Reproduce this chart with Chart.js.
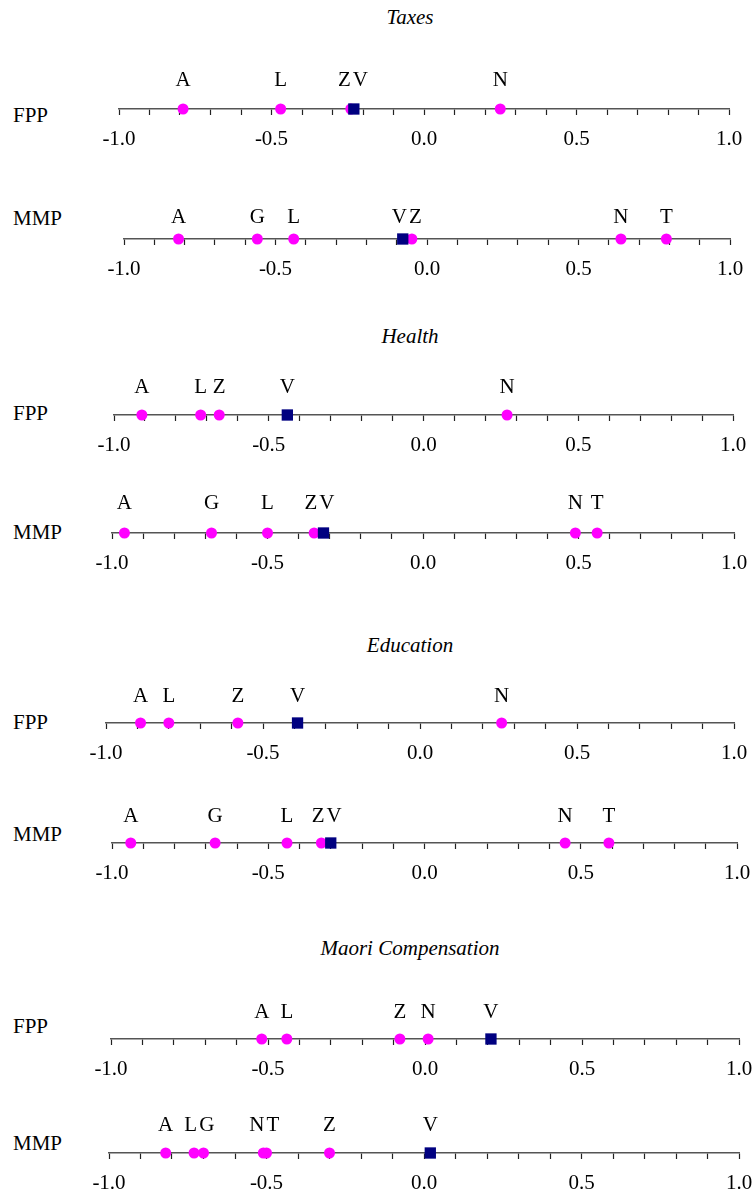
<!DOCTYPE html>
<html>
<head>
<meta charset="utf-8">
<script src="https://cdn.jsdelivr.net/npm/chart.js@4.4.0/dist/chart.umd.min.js"></script>
<style>
  body { margin: 0; background: #fff; }
  #page { position: relative; width: 754px; height: 1198px; overflow: hidden;
          font-family: 'Liberation Serif', 'Times New Roman', serif; color: #000; }
  .title { position: absolute; font-style: italic; font-size: 21px; white-space: nowrap;
           transform: translate(-50%, -50%); }
  .row { position: absolute; left: 13px; font-size: 21px; transform: translateY(-50%); }
  .box { position: absolute; }
</style>
</head>
<body>
<div id="page"></div>
<script>
/* ---- data: party positions on each issue (V = median voter) ---- */
var taxesFppLabels = ['A', 'L', 'Z', 'V', 'N'];
var taxesFppValues = [-0.79, -0.47, -0.24, -0.23, 0.25];
var taxesMmpLabels = ['A', 'G', 'L', 'V', 'Z', 'N', 'T'];
var taxesMmpValues = [-0.82, -0.56, -0.44, -0.08, -0.05, 0.64, 0.79];

var healthFppLabels = ['A', 'L', 'Z', 'V', 'N'];
var healthFppValues = [-0.91, -0.72, -0.66, -0.44, 0.27];
var healthMmpLabels = ['A', 'G', 'L', 'Z', 'V', 'N', 'T'];
var healthMmpValues = [-0.96, -0.68, -0.50, -0.35, -0.32, 0.49, 0.56];

var eduFppLabels = ['A', 'L', 'Z', 'V', 'N'];
var eduFppValues = [-0.89, -0.80, -0.58, -0.39, 0.26];
var eduMmpLabels = ['A', 'G', 'L', 'Z', 'V', 'N', 'T'];
var eduMmpValues = [-0.94, -0.67, -0.44, -0.33, -0.30, 0.45, 0.59];

var maoriFppLabels = ['A', 'L', 'Z', 'N', 'V'];
var maoriFppValues = [-0.52, -0.44, -0.08, 0.01, 0.21];
var maoriMmpLabels = ['A', 'L', 'G', 'N', 'T', 'Z', 'V'];
var maoriMmpValues = [-0.82, -0.73, -0.70, -0.51, -0.50, -0.30, 0.02];

var axisMin = -1;
var axisMax = 1;
var axisStep = 0.1;

/* ---- layout (pixel placement of each strip) ---- */
var titles = [
  { text: 'Taxes', x: 410, y: 17 },
  { text: 'Health', x: 410, y: 336 },
  { text: 'Education', x: 410, y: 645 },
  { text: 'Maori Compensation', x: 410, y: 948 }
];

var panels = [
  { row: 'FPP', labels: taxesFppLabels,  values: taxesFppValues,  left: 119,   right: 729,   axisY: 109,  rowY: 115,  lift: 29 },
  { row: 'MMP', labels: taxesMmpLabels,  values: taxesMmpValues,  left: 123.6, right: 729.3, axisY: 239,  rowY: 218,  lift: 22 },
  { row: 'FPP', labels: healthFppLabels, values: healthFppValues, left: 114,   right: 732.7, axisY: 415,  rowY: 413,  lift: 28 },
  { row: 'MMP', labels: healthMmpLabels, values: healthMmpValues, left: 111.5, right: 733.2, axisY: 533,  rowY: 532,  lift: 30 },
  { row: 'FPP', labels: eduFppLabels,    values: eduFppValues,    left: 105.8, right: 733.7, axisY: 723,  rowY: 722,  lift: 27 },
  { row: 'MMP', labels: eduMmpLabels,    values: eduMmpValues,    left: 112,   right: 737,   axisY: 843,  rowY: 834,  lift: 27 },
  { row: 'FPP', labels: maoriFppLabels,  values: maoriFppValues,  left: 110.6, right: 739,   axisY: 1039, rowY: 1026, lift: 27 },
  { row: 'MMP', labels: maoriMmpLabels,  values: maoriMmpValues,  left: 108.7, right: 739,   axisY: 1153, rowY: 1143, lift: 28 }
];

var FONT = "'Liberation Serif', 'Times New Roman', serif";
var page = document.getElementById('page');

titles.forEach(function (t) {
  var d = document.createElement('div');
  d.className = 'title';
  d.style.left = t.x + 'px';
  d.style.top = t.y + 'px';
  d.textContent = t.text;
  page.appendChild(d);
});

// letters above the points, nudged apart when they would collide
var letterPlugin = {
  id: 'letters',
  afterDatasetsDraw: function (chart) {
    var lift = chart.options.plugins.letters.lift;
    var items = [];
    chart.data.datasets.forEach(function (ds, i) {
      var meta = chart.getDatasetMeta(i);
      meta.data.forEach(function (pt, j) {
        items.push({ x: pt.x, y: pt.y, text: ds.names[j] });
      });
    });
    items.sort(function (a, b) { return a.x - b.x; });
    var pos = items.map(function (it) { return it.x; });
    var gap = 16;
    for (var k = 0; k < 30; k++) {
      for (var i = 0; i < pos.length - 1; i++) {
        var d = pos[i + 1] - pos[i];
        if (d < gap) {
          pos[i] -= (gap - d) / 2;
          pos[i + 1] += (gap - d) / 2;
        }
      }
    }
    var ctx = chart.ctx;
    ctx.save();
    ctx.font = '21px ' + FONT;
    ctx.fillStyle = '#000';
    ctx.textAlign = 'center';
    ctx.textBaseline = 'middle';
    items.forEach(function (it, i) {
      ctx.fillText(it.text, pos[i], it.y - lift);
    });
    ctx.restore();
  }
};

panels.forEach(function (p) {
  var padX = 40;
  var box = document.createElement('div');
  box.className = 'box';
  var canvas = document.createElement('canvas');
  canvas.width = Math.round(p.right - p.left) + padX * 2;
  canvas.height = 110;
  box.style.left = (p.left - padX) + 'px';
  box.style.top = (p.axisY - 60) + 'px';
  box.appendChild(canvas);
  page.appendChild(box);

  var rowDiv = document.createElement('div');
  rowDiv.className = 'row';
  rowDiv.style.top = p.rowY + 'px';
  rowDiv.textContent = p.row;
  page.appendChild(rowDiv);

  var voterPts = [], voterNames = [], partyPts = [], partyNames = [];
  p.labels.forEach(function (lab, i) {
    if (lab === 'V') {
      voterPts.push({ x: p.values[i], y: 0 });
      voterNames.push(lab);
    } else {
      partyPts.push({ x: p.values[i], y: 0 });
      partyNames.push(lab);
    }
  });

  var chart = new Chart(canvas, {
    type: 'scatter',
    data: {
      datasets: [
        {
          data: voterPts,
          names: voterNames,
          pointStyle: 'rect',
          pointRadius: 8,
          pointHoverRadius: 8,
          backgroundColor: '#000080',
          borderColor: '#000080',
          borderWidth: 0,
          clip: false
        },
        {
          data: partyPts,
          names: partyNames,
          pointStyle: 'circle',
          pointRadius: 5.5,
          pointHoverRadius: 5.5,
          backgroundColor: '#ff00ff',
          borderColor: '#ff00ff',
          borderWidth: 0,
          clip: false
        }
      ]
    },
    options: {
      responsive: false,
      animation: false,
      events: [],
      layout: { padding: { left: padX, right: padX, top: 20, bottom: 0 } },
      plugins: {
        legend: { display: false },
        tooltip: { enabled: false },
        letters: { lift: p.lift }
      },
      scales: {
        x: {
          type: 'linear',
          position: 'bottom',
          min: axisMin,
          max: axisMax,
          border: { display: true, color: '#555', width: 1.5 },
          grid: {
            drawOnChartArea: false,
            drawTicks: true,
            tickLength: 6,
            tickWidth: 1.2,
            tickColor: '#222'
          },
          ticks: {
            stepSize: axisStep,
            autoSkip: false,
            maxRotation: 0,
            padding: 12,
            color: '#000',
            font: { family: FONT, size: 21 },
            callback: function (v) {
              var tenths = Math.round(v * 10);
              return tenths % 5 === 0 ? (tenths / 10).toFixed(1) : '';
            }
          }
        },
        y: { display: false, min: 0, max: 1 }
      }
    },
    plugins: [letterPlugin]
  });

  // line the strip's axis up with the wanted position
  var dy = 60 - chart.chartArea.bottom;
  var dx = padX - chart.chartArea.left;
  box.style.top = (p.axisY - 60 + dy) + 'px';
  box.style.left = (p.left - padX + dx) + 'px';
});
</script>
</body>
</html>
